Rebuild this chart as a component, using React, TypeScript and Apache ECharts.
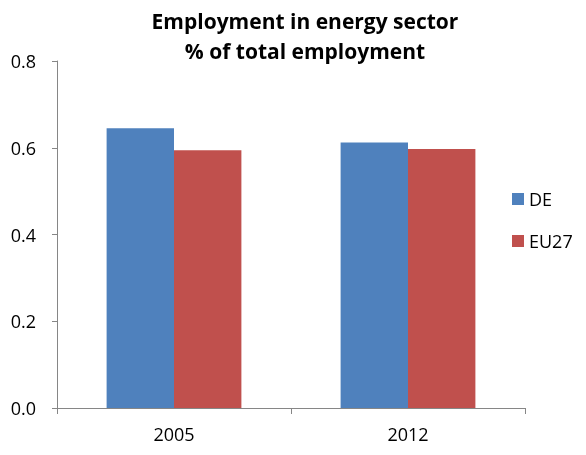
import React, { useEffect, useRef } from "react";
import * as echarts from "echarts";

const categories = ["2005", "2012"];
const deValues = [0.645, 0.612];
const eu27Values = [0.594, 0.597];
const yTicks = [0, 0.2, 0.4, 0.6, 0.8];

export default function App() {
  const ref = useRef<HTMLDivElement>(null);
  useEffect(() => {
    const chart = echarts.init(ref.current!, undefined, { renderer: "svg" });
    const font = "'Open Sans', Arial, sans-serif";
    chart.setOption({
      animation: false,
      title: {
        text: "Employment in energy sector\n% of total employment",
        left: 300,
        textAlign: "center",
        top: 1,
        textStyle: {
          fontFamily: font,
          fontWeight: "bold",
          fontSize: 21,
          lineHeight: 30,
          color: "#000",
        },
      },
      legend: {
        orient: "vertical",
        left: 507,
        top: 185,
        itemWidth: 12,
        itemHeight: 12,
        itemGap: 24,
        icon: "rect",
        textStyle: { fontFamily: font, fontSize: 18, color: "#000" },
        data: ["DE", "EU27"],
      },
      grid: { left: 57, right: 61, top: 61, bottom: 47 },
      xAxis: {
        type: "category",
        data: categories,
        axisLine: { lineStyle: { color: "#868686", width: 1 } },
        axisTick: { show: true, length: 6, lineStyle: { color: "#868686" } },
        axisLabel: { fontFamily: font, fontSize: 18, color: "#000", margin: 17 },
      },
      yAxis: {
        type: "value",
        min: yTicks[0],
        max: yTicks[yTicks.length - 1],
        interval: 0.2,
        axisLine: { show: true, lineStyle: { color: "#868686", width: 1 } },
        axisTick: { show: true, length: 5, lineStyle: { color: "#868686" } },
        splitLine: { show: false },
        axisLabel: {
          fontFamily: font,
          fontSize: 18,
          color: "#000",
          margin: 21,
          formatter: (v: number) => v.toFixed(1),
        },
      },
      series: [
        {
          name: "DE",
          type: "bar",
          data: deValues,
          barWidth: "28.8%",
          barGap: "0%",
          itemStyle: { color: "#4F81BD" },
        },
        {
          name: "EU27",
          type: "bar",
          data: eu27Values,
          barWidth: "28.8%",
          barGap: "0%",
          itemStyle: { color: "#C0504D" },
        },
      ],
    });
    return () => chart.dispose();
  }, []);
  return (
    <div
      ref={ref}
      style={{ position: "fixed", left: 0, top: 0, width: 586, height: 455 }}
    />
  );
}
